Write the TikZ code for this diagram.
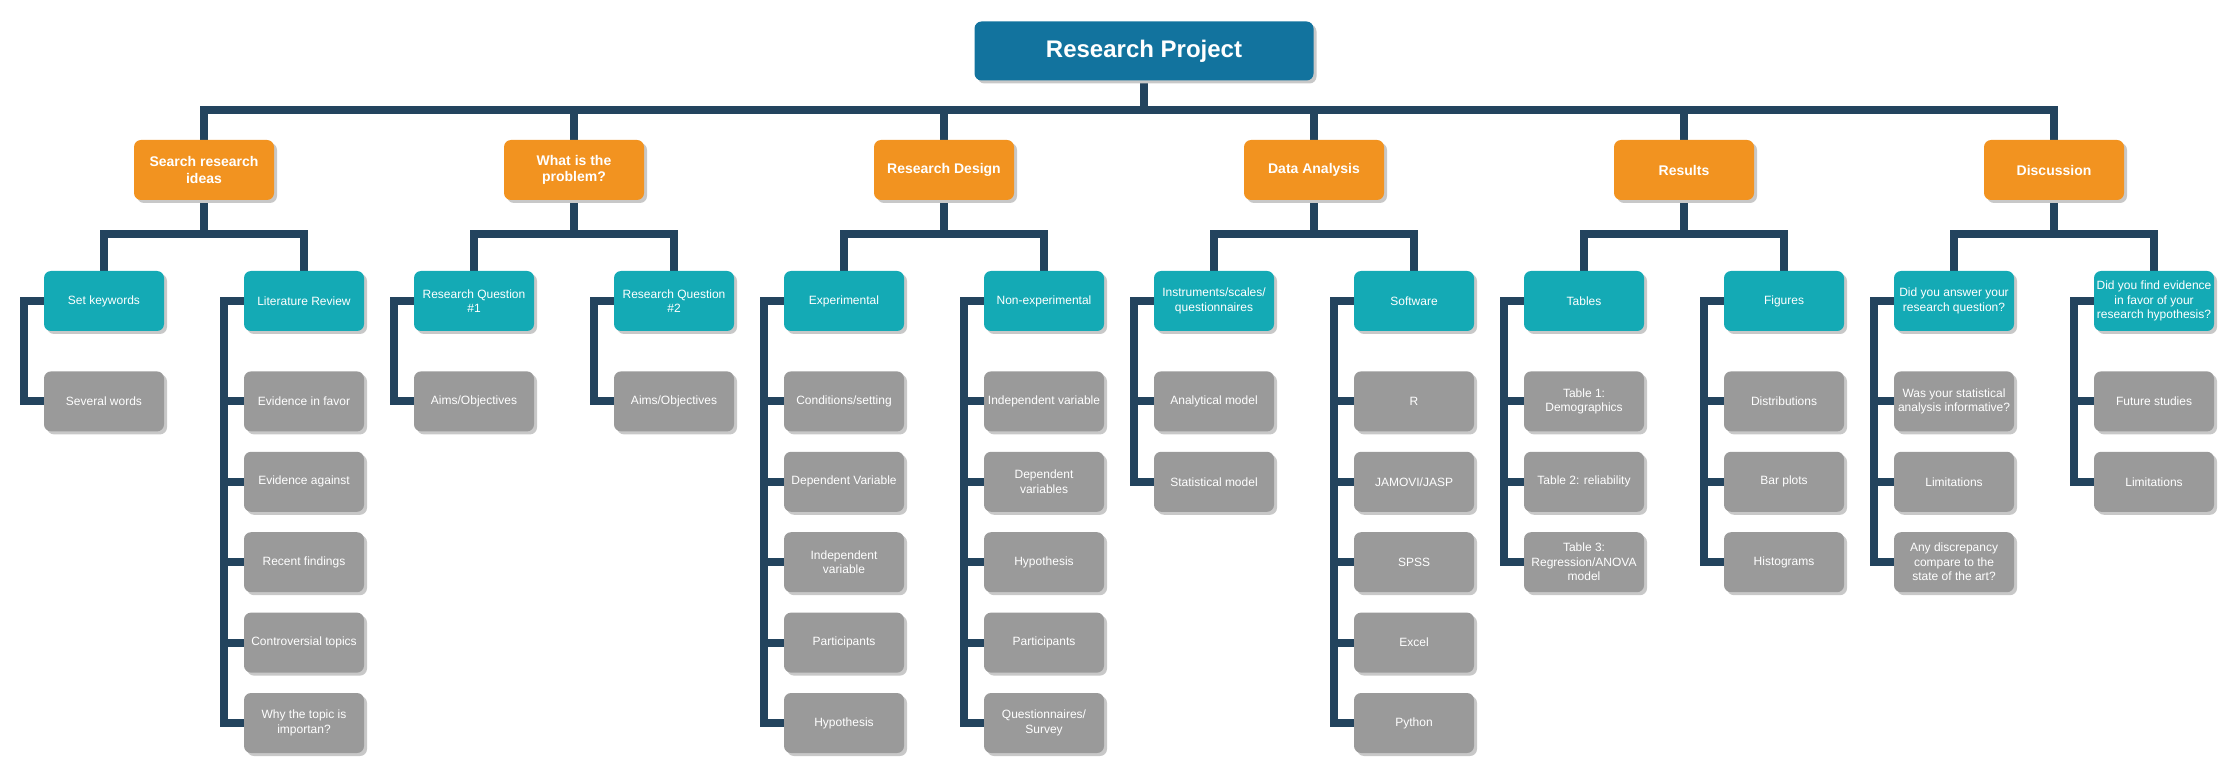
\documentclass[tikz,border=0pt]{standalone}
\usepackage{fontspec}
\setmainfont{Liberation Sans}
\usetikzlibrary{positioning,shadows,backgrounds}

\definecolor{projblue}{RGB}{18,115,158}
\definecolor{topicorange}{RGB}{242,147,32}
\definecolor{subteal}{RGB}{20,170,181}
\definecolor{leafgray}{RGB}{154,154,154}
\definecolor{linknavy}{RGB}{35,68,94}
\definecolor{shadowgray}{RGB}{200,200,200}

\begin{document}
\begin{tikzpicture}[x=1pt,y=-1pt,
    box/.style={rounded corners=7pt, align=center, text=white, inner sep=1pt,
        drop shadow={shadow xshift=3pt, shadow yshift=-3pt, fill=shadowgray, opacity=1}},
    main/.style={box, fill=projblue, minimum width=339pt, minimum height=59pt,
        font=\fontsize{24}{28}\selectfont\bfseries},
    topic/.style={box, fill=topicorange, minimum width=140pt, minimum height=60pt,
        font=\fontsize{14}{16.5}\selectfont\bfseries},
    sub/.style={box, fill=subteal, minimum width=120pt, minimum height=60pt,
        font=\fontsize{12}{14.5}\selectfont},
    leaf/.style={sub, fill=leafgray},
    link/.style={draw=linknavy, line width=8pt}]
    \useasboundingbox (0,0) rectangle (2237,775);

    % root and topics
    \node[main] (proj) at (1144,51) {Research Project};
    \node[topic] (search) at (204,170) {Search research\\ideas};
    \node[topic] (problem) at (574,170) {What is the\\problem?};
    \node[topic] (design) at (944,170) {Research Design};
    \node[topic] (analysis) at (1314,170) {Data Analysis};
    \node[topic] (results) at (1684,170) {Results};
    \node[topic] (discuss) at (2054,170) {Discussion};

    % second level
    \node[sub] (keys) at (104,301) {Set keywords};
    \node[sub] (litrev) at (304,301) {Literature Review};
    \node[sub] (rq1) at (474,301) {Research Question\\\#1};
    \node[sub] (rq2) at (674,301) {Research Question\\\#2};
    \node[sub] (exper) at (844,301) {Experimental};
    \node[sub] (nonexp) at (1044,301) {Non-experimental};
    \node[sub] (instr) at (1214,301) {Instruments/scales/\\questionnaires};
    \node[sub] (soft) at (1414,301) {Software};
    \node[sub] (tables) at (1584,301) {Tables};
    \node[sub] (figs) at (1784,301) {Figures};
    \node[sub] (answer) at (1954,301) {Did you answer your\\research question?};
    \node[sub] (evid) at (2154,301) {Did you find evidence\\in favor of your\\research hypothesis?};

    % leaves
    \node[leaf, below=40pt of keys] (keys1) {Several words};

    \node[leaf, below=40pt of litrev] (litrev1) {Evidence in favor};
    \node[leaf, below=20pt of litrev1] (litrev2) {Evidence against};
    \node[leaf, below=20pt of litrev2] (litrev3) {Recent findings};
    \node[leaf, below=20pt of litrev3] (litrev4) {Controversial topics};
    \node[leaf, below=20pt of litrev4] (litrev5) {Why the topic is\\importan?};

    \node[leaf, below=40pt of rq1] (rq1a) {Aims/Objectives};
    \node[leaf, below=40pt of rq2] (rq2a) {Aims/Objectives};

    \node[leaf, below=40pt of exper] (exper1) {Conditions/setting};
    \node[leaf, below=20pt of exper1] (exper2) {Dependent Variable};
    \node[leaf, below=20pt of exper2] (exper3) {Independent\\variable};
    \node[leaf, below=20pt of exper3] (exper4) {Participants};
    \node[leaf, below=20pt of exper4] (exper5) {Hypothesis};

    \node[leaf, below=40pt of nonexp] (nonexp1) {Independent variable};
    \node[leaf, below=20pt of nonexp1] (nonexp2) {Dependent\\variables};
    \node[leaf, below=20pt of nonexp2] (nonexp3) {Hypothesis};
    \node[leaf, below=20pt of nonexp3] (nonexp4) {Participants};
    \node[leaf, below=20pt of nonexp4] (nonexp5) {Questionnaires/\\Survey};

    \node[leaf, below=40pt of instr] (instr1) {Analytical model};
    \node[leaf, below=20pt of instr1] (instr2) {Statistical model};

    \node[leaf, below=40pt of soft] (soft1) {R};
    \node[leaf, below=20pt of soft1] (soft2) {JAMOVI/JASP};
    \node[leaf, below=20pt of soft2] (soft3) {SPSS};
    \node[leaf, below=20pt of soft3] (soft4) {Excel};
    \node[leaf, below=20pt of soft4] (soft5) {Python};

    \node[leaf, below=40pt of tables] (tables1) {Table 1:\\Demographics};
    \node[leaf, below=20pt of tables1] (tables2) {Table 2: reliability};
    \node[leaf, below=20pt of tables2] (tables3) {Table 3:\\Regression/ANOVA\\model};

    \node[leaf, below=40pt of figs] (figs1) {Distributions};
    \node[leaf, below=20pt of figs1] (figs2) {Bar plots};
    \node[leaf, below=20pt of figs2] (figs3) {Histograms};

    \node[leaf, below=40pt of answer] (answer1) {Was your statistical\\analysis informative?};
    \node[leaf, below=20pt of answer1] (answer2) {Limitations};
    \node[leaf, below=20pt of answer2] (answer3) {Any discrepancy\\compare to the\\state of the art?};

    \node[leaf, below=40pt of evid] (evid1) {Future studies};
    \node[leaf, below=20pt of evid1] (evid2) {Limitations};

    \begin{scope}[on background layer]
    % main bus
    \coordinate (bus) at (1144,110);
    \draw[link] (proj) -- (bus);
    \draw[link] (bus) -| (search);
    \draw[link] (bus) -| (problem);
    \draw[link] (bus) -| (design);
    \draw[link] (bus) -| (analysis);
    \draw[link] (bus) -| (results);
    \draw[link] (bus) -| (discuss);

    % topic to second level
    \draw[link] (search) -- ++(0,64) -| (keys);
    \draw[link] (search) -- ++(0,64) -| (litrev);
    \draw[link] (problem) -- ++(0,64) -| (rq1);
    \draw[link] (problem) -- ++(0,64) -| (rq2);
    \draw[link] (design) -- ++(0,64) -| (exper);
    \draw[link] (design) -- ++(0,64) -| (nonexp);
    \draw[link] (analysis) -- ++(0,64) -| (instr);
    \draw[link] (analysis) -- ++(0,64) -| (soft);
    \draw[link] (results) -- ++(0,64) -| (tables);
    \draw[link] (results) -- ++(0,64) -| (figs);
    \draw[link] (discuss) -- ++(0,64) -| (answer);
    \draw[link] (discuss) -- ++(0,64) -| (evid);

    % brackets to leaves
    \draw[link] (keys.west) -- ++(-20,0) |- (keys1.west);
    \draw[link] (litrev.west) -- ++(-20,0) |- (litrev5.west)
        (litrev1.west) -- ++(-20,0) (litrev2.west) -- ++(-20,0)
        (litrev3.west) -- ++(-20,0) (litrev4.west) -- ++(-20,0);
    \draw[link] (rq1.west) -- ++(-20,0) |- (rq1a.west);
    \draw[link] (rq2.west) -- ++(-20,0) |- (rq2a.west);
    \draw[link] (exper.west) -- ++(-20,0) |- (exper5.west)
        (exper1.west) -- ++(-20,0) (exper2.west) -- ++(-20,0)
        (exper3.west) -- ++(-20,0) (exper4.west) -- ++(-20,0);
    \draw[link] (nonexp.west) -- ++(-20,0) |- (nonexp5.west)
        (nonexp1.west) -- ++(-20,0) (nonexp2.west) -- ++(-20,0)
        (nonexp3.west) -- ++(-20,0) (nonexp4.west) -- ++(-20,0);
    \draw[link] (instr.west) -- ++(-20,0) |- (instr2.west)
        (instr1.west) -- ++(-20,0);
    \draw[link] (soft.west) -- ++(-20,0) |- (soft5.west)
        (soft1.west) -- ++(-20,0) (soft2.west) -- ++(-20,0)
        (soft3.west) -- ++(-20,0) (soft4.west) -- ++(-20,0);
    \draw[link] (tables.west) -- ++(-20,0) |- (tables3.west)
        (tables1.west) -- ++(-20,0) (tables2.west) -- ++(-20,0);
    \draw[link] (figs.west) -- ++(-20,0) |- (figs3.west)
        (figs1.west) -- ++(-20,0) (figs2.west) -- ++(-20,0);
    \draw[link] (answer.west) -- ++(-20,0) |- (answer3.west)
        (answer1.west) -- ++(-20,0) (answer2.west) -- ++(-20,0);
    \draw[link] (evid.west) -- ++(-20,0) |- (evid2.west)
        (evid1.west) -- ++(-20,0);
    \end{scope}
\end{tikzpicture}
\end{document}
